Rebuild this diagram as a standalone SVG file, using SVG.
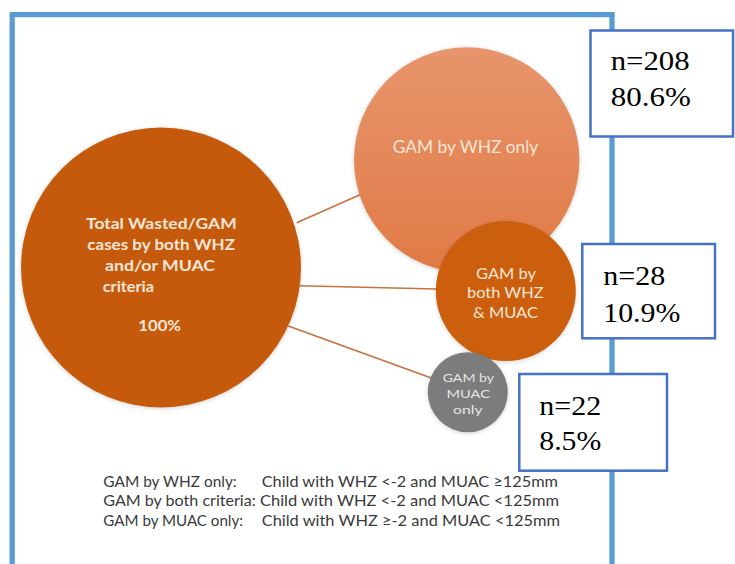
<svg xmlns="http://www.w3.org/2000/svg" width="735" height="564" viewBox="0 0 735 564">
  <defs>
    <linearGradient id="whzFill" x1="0" y1="0" x2="0" y2="1">
      <stop offset="0" stop-color="#e8956d"/>
      <stop offset="1" stop-color="#e07a46"/>
    </linearGradient>
    <filter id="soft" x="-10%" y="-10%" width="120%" height="120%">
      <feGaussianBlur in="SourceAlpha" stdDeviation="2"/>
      <feOffset dx="0" dy="1" result="b"/>
      <feFlood flood-color="#000" flood-opacity="0.18"/>
      <feComposite in2="b" operator="in" result="s"/>
      <feMerge><feMergeNode in="s"/><feMergeNode in="SourceGraphic"/></feMerge>
    </filter>
    <style>
      .frame { fill: none; stroke: #5b9bd5; stroke-width: 5.3; }
      .link { stroke: #c8713d; stroke-width: 1.6; fill: none; }
      .bubble-text { font-family: Lato, "Open Sans", "Liberation Sans", sans-serif; text-anchor: start; }
      .cream { fill: #fbe6d6; }
      .big { font-size: 16px; font-weight: bold; }
      .mid { font-size: 16.5px; }
      .small { font-size: 15px; }
      .tiny { font-size: 12px; fill: #e6e6e6; }
      .box { fill: #ffffff; stroke: #4472c4; stroke-width: 2.5; }
      .count { font-family: "Liberation Serif", "Times New Roman", serif; font-size: 27.5px; fill: #000; }
      .legend { font-family: Lato, "Open Sans", "Liberation Sans", sans-serif; font-size: 15px; fill: #3a3a3a; }
    </style>
  </defs>

  <rect width="735" height="564" fill="#ffffff"/>

  <!-- outer frame, open at the bottom edge of the page -->
  <path class="frame" d="M12.2,570 V14.7 H612 V570"/>

  <!-- links from the total bubble to each group -->
  <g id="connectors">
    <line class="link" x1="296.7" y1="222.7" x2="361.7" y2="194"/>
    <line class="link" x1="299.3" y1="285.7" x2="436" y2="289"/>
    <line class="link" x1="288.3" y1="326" x2="432" y2="378.3"/>
  </g>

  <g id="total">
    <circle cx="161" cy="267.5" r="140" fill="#c55a11" filter="url(#soft)"/>
    <g class="bubble-text cream big">
      <text x="86" y="229.3" textLength="150.7" lengthAdjust="spacingAndGlyphs">Total Wasted/GAM</text>
      <text x="87.3" y="250" textLength="147.7" lengthAdjust="spacingAndGlyphs">cases by both WHZ</text>
      <text x="105" y="271" textLength="110" lengthAdjust="spacingAndGlyphs">and/or MUAC</text>
      <text x="102.7" y="291.7" textLength="51.3" lengthAdjust="spacingAndGlyphs">criteria</text>
      <text x="138.3" y="330.7" textLength="42.7" lengthAdjust="spacingAndGlyphs">100%</text>
    </g>
  </g>

  <g id="whz-only">
    <circle cx="466.7" cy="160" r="112.7" fill="url(#whzFill)" filter="url(#soft)"/>
    <text class="bubble-text cream mid" x="392.7" y="153" textLength="145.6" lengthAdjust="spacingAndGlyphs">GAM by WHZ only</text>
  </g>

  <g id="both">
    <circle cx="505.8" cy="291" r="70" fill="#cb5e10" filter="url(#soft)"/>
    <g class="bubble-text cream small">
      <text x="476" y="279.3" textLength="60" lengthAdjust="spacingAndGlyphs">GAM by</text>
      <text x="467" y="297.7" textLength="76.7" lengthAdjust="spacingAndGlyphs">both WHZ</text>
      <text x="473" y="317.7" textLength="65" lengthAdjust="spacingAndGlyphs">&amp; MUAC</text>
    </g>
  </g>

  <g id="muac-only">
    <circle cx="467.8" cy="392.3" r="40" fill="#7b7b7b" filter="url(#soft)"/>
    <g class="bubble-text tiny">
      <text x="442.7" y="381.8" textLength="51.3" lengthAdjust="spacingAndGlyphs">GAM by</text>
      <text x="446.5" y="398.3" textLength="43.5" lengthAdjust="spacingAndGlyphs">MUAC</text>
      <text x="453" y="413.5" textLength="29.5" lengthAdjust="spacingAndGlyphs">only</text>
    </g>
  </g>

  <g id="count-whz">
    <rect class="box" x="590.5" y="30.5" width="142.5" height="106"/>
    <text class="count" x="610.7" y="70" textLength="79" lengthAdjust="spacingAndGlyphs">n=208</text>
    <text class="count" x="610.7" y="106" textLength="80" lengthAdjust="spacingAndGlyphs">80.6%</text>
  </g>

  <g id="count-both">
    <rect class="box" x="582.3" y="244" width="132.7" height="94.3"/>
    <text class="count" x="603.3" y="285" textLength="62" lengthAdjust="spacingAndGlyphs">n=28</text>
    <text class="count" x="603.3" y="321.7" textLength="77" lengthAdjust="spacingAndGlyphs">10.9%</text>
  </g>

  <g id="count-muac">
    <rect class="box" x="519.3" y="374" width="147.7" height="96.7"/>
    <text class="count" x="539.3" y="415" textLength="62" lengthAdjust="spacingAndGlyphs">n=22</text>
    <text class="count" x="539.3" y="450" textLength="62" lengthAdjust="spacingAndGlyphs">8.5%</text>
  </g>

  <g id="legend" class="legend">
    <text x="103.3" y="487.3" textLength="133.4" lengthAdjust="spacingAndGlyphs">GAM by WHZ only:</text>
    <text x="261.7" y="487.3" textLength="296.3" lengthAdjust="spacingAndGlyphs">Child with WHZ &lt;-2 and MUAC ≥125mm</text>
    <text x="103.3" y="506" textLength="152.4" lengthAdjust="spacingAndGlyphs">GAM by both criteria:</text>
    <text x="260" y="506" textLength="299" lengthAdjust="spacingAndGlyphs">Child with WHZ &lt;-2 and MUAC &lt;125mm</text>
    <text x="103.3" y="526" textLength="139.7" lengthAdjust="spacingAndGlyphs">GAM by MUAC only:</text>
    <text x="261.7" y="526" textLength="298.3" lengthAdjust="spacingAndGlyphs">Child with WHZ ≥-2 and MUAC &lt;125mm</text>
  </g>
</svg>
